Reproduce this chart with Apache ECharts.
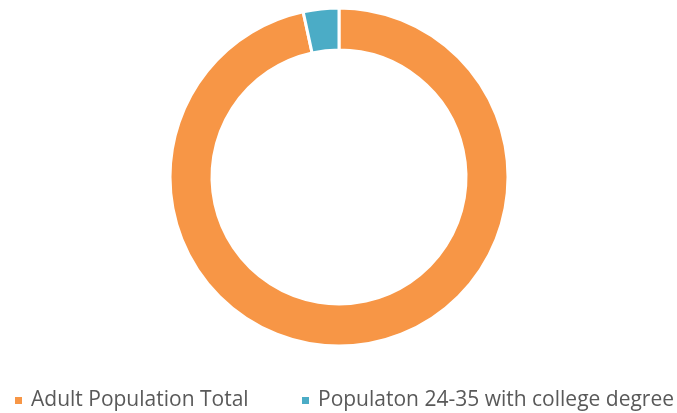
<!DOCTYPE html>
<html><head><meta charset="utf-8">
<script src="https://cdn.jsdelivr.net/npm/echarts@6/dist/echarts.min.js"></script>
<style>html,body{margin:0;padding:0;background:#fff}#c{width:677px;height:413px}</style>
</head><body><div id="c"></div>
<script>
const categories = ['Adult Population Total', 'Populaton 24-35 with college degree'];
const values = [96.6, 3.4];
const colors = ['#F79646', '#4BACC6'];

const legendBase = {
  top: 390,
  padding: 0,
  itemWidth: 9,
  itemHeight: 9,
  icon: 'rect',
  textStyle: { fontFamily: 'Open Sans', fontSize: 21, color: '#595959', padding: [0,0,0,3] }
};

const chart = echarts.init(document.getElementById('c'));
chart.setOption({
  animation: false,
  color: colors,
  legend: [
    Object.assign({}, legendBase, { data: [categories[0]], left: 13 }),
    Object.assign({}, legendBase, { data: [categories[1]], left: 300 })
  ],
  series: [{
    type: 'pie',
    center: [339, 177],
    radius: [127, 169],
    startAngle: 90,
    clockwise: true,
    label: { show: false },
    labelLine: { show: false },
    itemStyle: { borderColor: '#fff', borderWidth: 3 },
    data: categories.map((n, i) => ({ name: n, value: values[i] }))
  }]
});
</script></body></html>
